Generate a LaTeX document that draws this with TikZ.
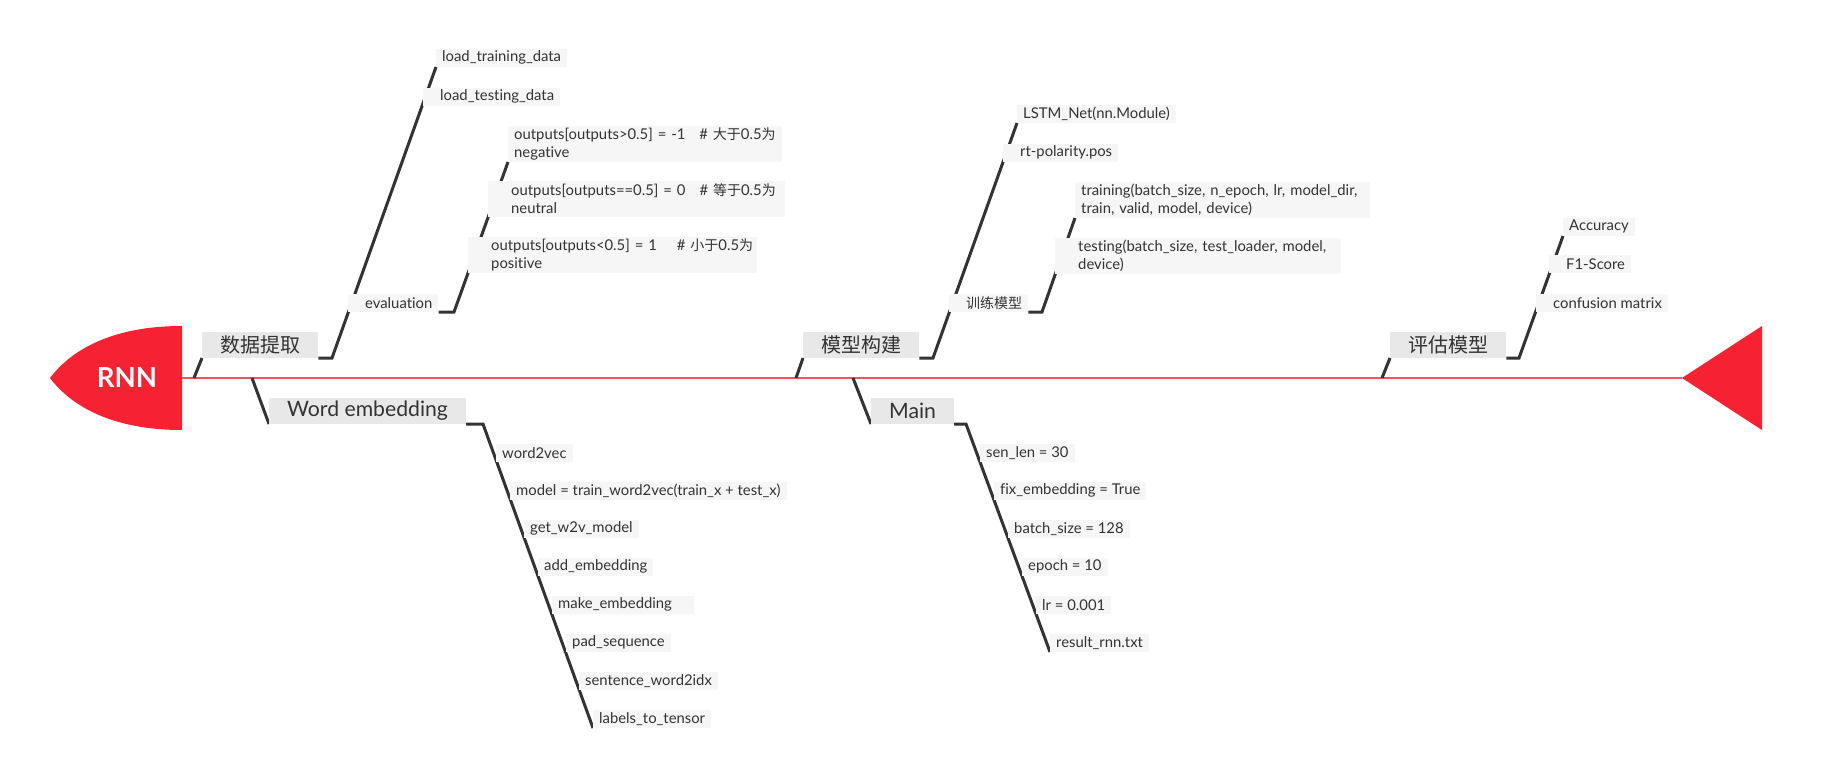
\documentclass[tikz,border=0pt]{standalone}
\usepackage{fontspec}
\setmainfont{Lato}[Scale=1.06, Ligatures={TeX,NoCommon}]
\newfontfamily\cjk{Noto Sans CJK SC}
\usetikzlibrary{backgrounds}
\definecolor{fishred}{HTML}{F72231}
\definecolor{spinered}{HTML}{F2545E}
\definecolor{bonegray}{HTML}{333333}
\definecolor{topicfill}{HTML}{E8E8E8}
\definecolor{leaffill}{HTML}{F6F6F6}
\tikzset{tp/.style={font=\fontsize{20}{24}\selectfont, fill=topicfill, text=bonegray, anchor=south west, inner xsep=18pt, inner ysep=0pt, minimum height=26pt}}
\tikzset{lf/.style={font=\fontsize{14}{18}\selectfont, fill=leaffill, text=bonegray, anchor=south west, inner xsep=6pt, inner ysep=0pt, minimum height=18pt, align=left}}
\tikzset{two/.style={minimum height=36pt, text width=#1}}
\tikzset{bone/.style={draw=bonegray, line width=3pt}}
\newcommand{\pad}[1][11pt]{\hspace*{#1}}

\begin{document}
\begin{tikzpicture}[x=1pt, y=-1pt]
            \useasboundingbox (0,0) rectangle (1832,778);
            \coordinate (head) at (182,378);
            \coordinate (tail) at (1682,378);
            \node[font=\bfseries\fontsize{26}{26}\selectfont, text=white] (rnn) at (127,378) {RNN};

            \coordinate (s1) at (194,378);
            \node[tp] (data) at (202,358) {\cjk 数据提取};
            \coordinate (k1) at (332,358);
            \node[lf] (ltrain) at (436,67) {load\_training\_data};
            \node[lf] (ltest) at (423,106) {\pad load\_testing\_data};
            \node[lf] (eval) at (348,312) {\pad evaluation};
            \coordinate (k2) at (454,312);
            \node[lf, two=262pt] (neg) at (508,162) {\mbox{outputs[outputs>0.5] = -1\hspace{14pt}\# {\cjk 大于}0.5{\cjk 为}}\\negative};
            \node[lf, two=285pt] (neu) at (488,217) {\mbox{\pad[17pt]outputs[outputs==0.5] = 0\hspace{14pt}\# {\cjk 等于}0.5{\cjk 为}}\\\pad[17pt]neutral};
            \node[lf, two=277pt] (pos) at (468,273) {\mbox{\pad[17pt]outputs[outputs<0.5] = 1\hspace{20pt}\# {\cjk 小于}0.5{\cjk 为}}\\\pad[17pt]positive};

            \coordinate (s2) at (252,378);
            \node[tp] (emb) at (269,424) {Word embedding};
            \coordinate (k3) at (483,424);
            \node[lf] (w2v) at (496,462) {word2vec};
            \node[lf] (tw2v) at (510,500) {model = train\_word2vec(train\_x + test\_x)};
            \node[lf] (gw2v) at (524,538) {get\_w2v\_model};
            \node[lf] (addemb) at (538,576) {add\_embedding};
            \node[lf] (mkemb) at (552,614) {make\_embedding\hspace*{16pt}};
            \node[lf] (padseq) at (566,652) {pad\_sequence};
            \node[lf] (s2idx) at (579,690) {sentence\_word2idx};
            \node[lf] (l2t) at (593,728) {labels\_to\_tensor};

            \coordinate (s3) at (796,378);
            \node[tp] (build) at (803,358) {\cjk 模型构建};
            \coordinate (k4) at (933,358);
            \node[lf] (lstm) at (1017,123) {LSTM\_Net(nn.Module)};
            \node[lf] (pol) at (1003,162) {\pad rt-polarity.pos};
            \node[lf] (trainm) at (949,312) {\pad{\cjk 训练模型}};
            \coordinate (k5) at (1042,312);
            \node[lf, two=283pt] (trn) at (1075,218) {\mbox{training(batch\_size, n\_epoch, lr, model\_dir,}\\train, valid, model, device)};
            \node[lf, two=274pt] (tst) at (1055,274) {\mbox{\pad[17pt]testing(batch\_size, test\_loader, model,}\\\pad[17pt]device)};

            \coordinate (s4) at (853,378);
            \node[tp] (main) at (871,424) {Main};
            \coordinate (k6) at (966,424);
            \node[lf] (senlen) at (980,462) {sen\_len = 30};
            \node[lf] (fixemb) at (994,500) {fix\_embedding = True};
            \node[lf] (bsize) at (1008,538) {batch\_size = 128};
            \node[lf] (epoch) at (1022,576) {epoch = 10};
            \node[lf] (lr) at (1036,614) {lr = 0.001};
            \node[lf] (res) at (1050,652) {result\_rnn.txt};

            \coordinate (s5) at (1382,378);
            \node[tp] (assess) at (1390,358) {\cjk 评估模型};
            \coordinate (k7) at (1519,358);
            \node[lf] (acc) at (1563,236) {Accuracy};
            \node[lf] (f1) at (1549,273) {\pad F1-Score};
            \node[lf] (cm) at (1536,312) {\pad confusion matrix};

            \begin{scope}[on background layer]
              \fill[fishred] (head) -- (182,326) .. controls (120,326) and (75,345) .. (50,378) .. controls (75,411) and (120,430) .. (182,430) -- cycle;
              \fill[fishred] (tail) -- (1762,326) -- (1762,430) -- cycle;
              \draw[spinered, line width=1.5pt] (head) -- (tail);
              \draw[bone] (s1) -- (data.south west);
              \draw[bone] (data.south east) -- (k1) -- (ltrain.south west);
              \draw[bone] (eval.south east) -- (k2) -- (neg.south west);
              \draw[bone] (s2) -- (emb.south west);
              \draw[bone] (emb.south east) -- (k3) -- (l2t.south west);
              \draw[bone] (s3) -- (build.south west);
              \draw[bone] (build.south east) -- (k4) -- (lstm.south west);
              \draw[bone] (trainm.south east) -- (k5) -- (trn.south west);
              \draw[bone] (s4) -- (main.south west);
              \draw[bone] (main.south east) -- (k6) -- (res.south west);
              \draw[bone] (s5) -- (assess.south west);
              \draw[bone] (assess.south east) -- (k7) -- (acc.south west);
            \end{scope}
          \end{tikzpicture}
\end{document}
